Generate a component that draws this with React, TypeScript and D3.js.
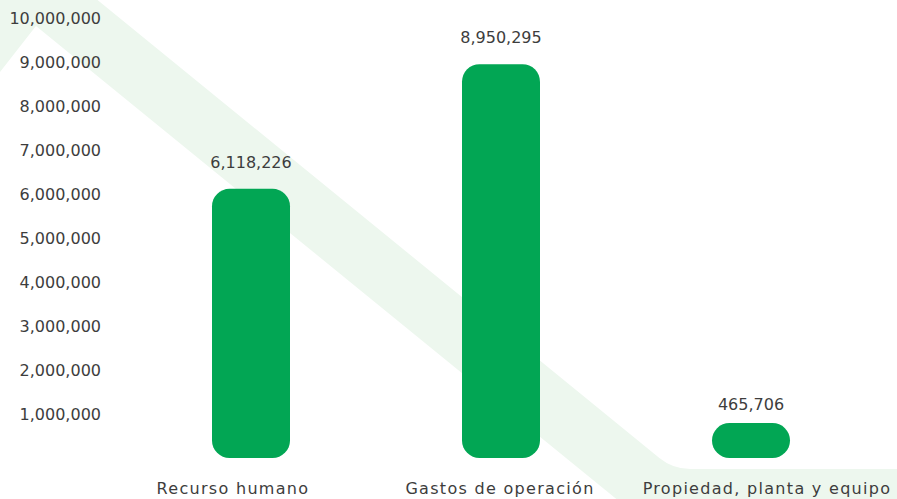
import React from "react";
import * as d3 from "d3";

const categories = ["Recurso humano", "Gastos de operación", "Propiedad, planta y equipo"];
const values = [6118226, 8950295, 465706];
const yTicks = [1000000, 2000000, 3000000, 4000000, 5000000, 6000000, 7000000, 8000000, 9000000, 10000000];

const W = 897;
const H = 499;
const BAR_COLOR = "#02A654";
const BG_BAND = "#EDF7EE";
const TEXT = "#3d3d3d";
const FONT = "'DejaVu Sans', sans-serif";
const R = 17.5;

export default function App() {
  const y = d3.scaleLinear().domain([0, 10000000]).range([458, 18]);
  const x = d3
    .scaleBand<string>()
    .domain(categories)
    .range([126, 876])
    .paddingInner(0.688)
    .paddingOuter(0.344);
  const xLabel = d3.scalePoint<string>().domain(categories).range([233, 767]);
  const fmt = d3.format(",");

  // decorative background band (center line)
  const slope = 0.815;
  const c0 = -41.4;
  const hy = 498.5;
  const cornerX = (hy - c0) / slope;
  const d = 28;
  const ang = Math.atan(slope);
  const p1 = [cornerX - d * Math.cos(ang), hy - d * Math.sin(ang)];
  const p2 = [cornerX + d, hy];
  const bgPath = d3.path();
  bgPath.moveTo(-388, 520);
  bgPath.lineTo(31.3, -15.9);
  bgPath.lineTo(p1[0], p1[1]);
  bgPath.quadraticCurveTo(cornerX, hy, p2[0], p2[1]);
  bgPath.lineTo(960, hy);

  const base = y(0);

  return (
    <svg
      width={W}
      height={H}
      style={{ position: "fixed", left: 0, top: 0, background: "#fff" }}
      fontFamily={FONT}
    >
      <rect x={0} y={0} width={W} height={H} fill="#fff" />
      <path
        d={bgPath.toString()}
        fill="none"
        stroke={BG_BAND}
        strokeWidth={59}
        strokeLinejoin="miter"
        strokeMiterlimit={10}
      />
      {yTicks.map((t) => (
        <text
          key={t}
          x={101}
          y={y(t)}
          textAnchor="end"
          dominantBaseline="central"
          fontSize={16}
          fill={TEXT}
        >
          {fmt(t)}
        </text>
      ))}
      {categories.map((c, i) => {
        const top = Math.min(y(values[i]), base - 2 * R);
        const bx = x(c) as number;
        const bw = x.bandwidth();
        const labelY = Math.min(y(values[i]) - 21, top - 13);
        return (
          <g key={c}>
            <rect x={bx} y={top} width={bw} height={base - top} rx={R} ry={R} fill={BAR_COLOR} />
            <text x={bx + bw / 2} y={labelY} textAnchor="middle" fontSize={16} fill={TEXT}>
              {fmt(values[i])}
            </text>
            <text
              x={xLabel(c)}
              y={494}
              textAnchor="middle"
              fontSize={16}
              letterSpacing={1.3}
              fill={TEXT}
            >
              {c}
            </text>
          </g>
        );
      })}
    </svg>
  );
}
